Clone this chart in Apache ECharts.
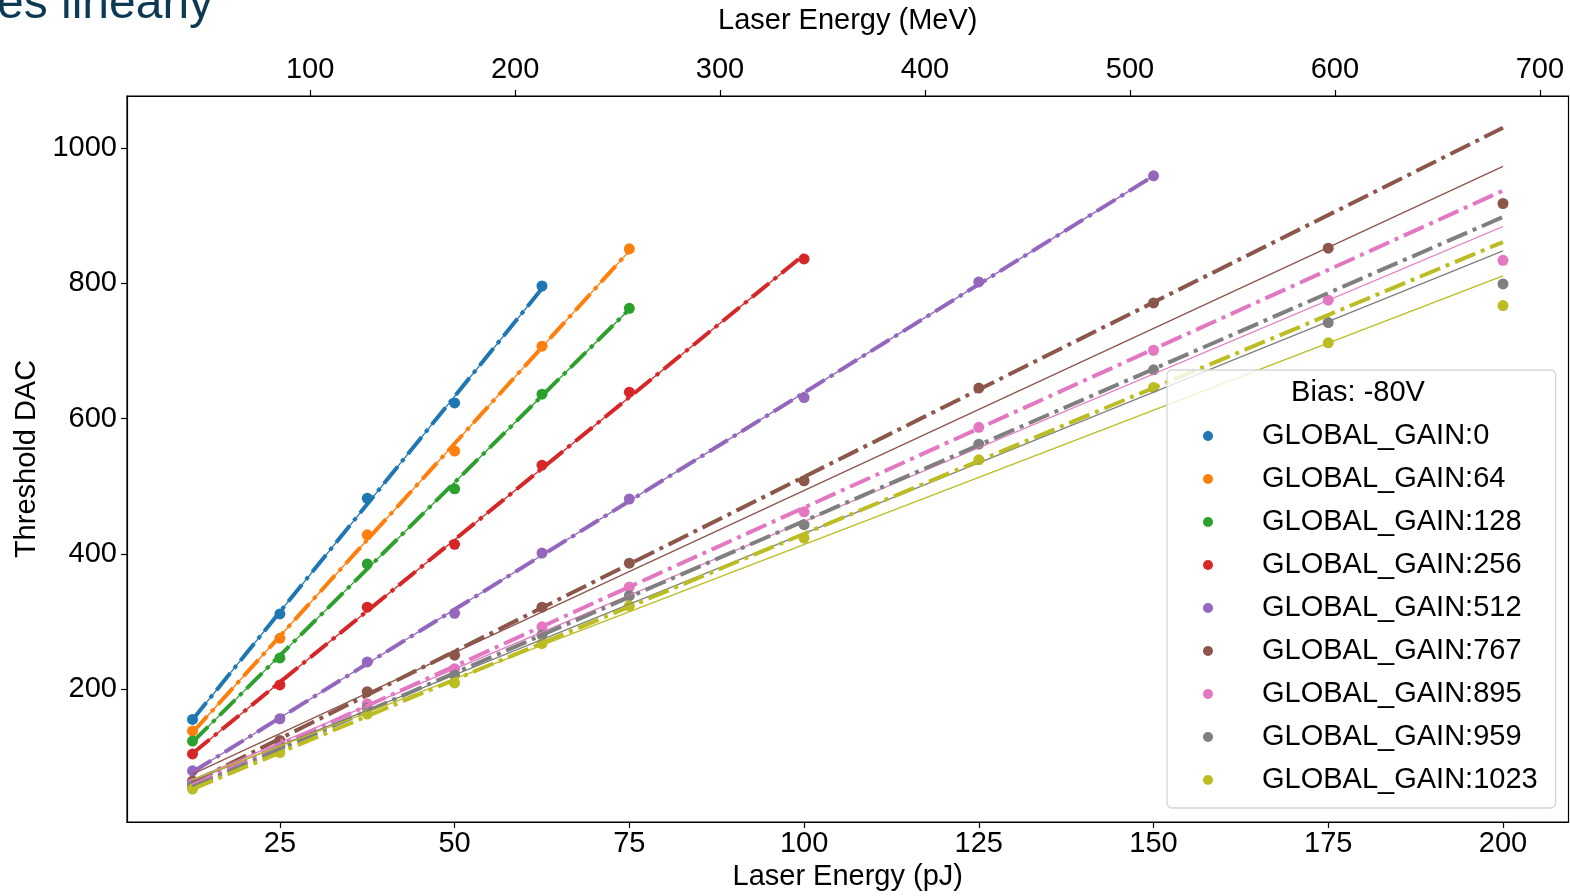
<!DOCTYPE html>
<html>
<head>
<meta charset="utf-8">
<script src="https://cdn.jsdelivr.net/npm/echarts@6/dist/echarts.min.js"></script>
<style>
html,body{margin:0;padding:0;background:#fff;}
#chart{width:1570px;height:896px;}
</style>
</head>
<body>
<div id="chart"></div>
<script>
// ---- data ----
const pJ = [12.5, 25, 37.5, 50, 62.5, 75, 100, 125, 150, 175, 200];
const gainNames = ['GLOBAL_GAIN:0','GLOBAL_GAIN:64','GLOBAL_GAIN:128','GLOBAL_GAIN:256','GLOBAL_GAIN:512','GLOBAL_GAIN:767','GLOBAL_GAIN:895','GLOBAL_GAIN:959','GLOBAL_GAIN:1023'];
const colors = ['#1f77b4','#ff7f0e','#2ca02c','#d62728','#9467bd','#8c564b','#e377c2','#7f7f7f','#bcbd22'];

const gain0    = [155, 311, 482, 623, 796];
const gain64   = [138, 275, 428, 552, 707, 851];
const gain128  = [123, 246, 385, 496, 636, 763];
const gain256  = [104, 206, 321, 414, 531, 639, 836];
const gain512  = [79, 156, 240, 312, 401, 481, 631, 802, 959];
const gain767  = [64, 124, 196, 250, 321, 386, 508, 645, 771, 852, 918];
const gain895  = [60, 119, 178, 230, 292, 351, 462, 587, 701, 775, 834];
const gain959  = [57, 115, 172, 221, 280, 338, 443, 562, 672, 742, 799];
const gain1023 = [52, 106, 163, 209, 267, 323, 423, 539, 646, 712, 767];
const gainValues = [gain0, gain64, gain128, gain256, gain512, gain767, gain895, gain959, gain1023];

// fit line values at first and last measured energy
const dashFitStart = [154.6, 135.7, 121.4, 104.7, 77.2, 62, 58, 55, 52];
const dashFitEnd   = [792.2, 847.9, 761.6, 842.2, 958.8, 1030, 937, 898, 861];
const thinFitStart = [154.6, 135.7, 121.4, 104.7, 77.2, 74, 66, 64, 66];
const thinFitEnd   = [792.2, 847.9, 761.6, 842.2, 958.8, 973, 884, 848, 811];

const pJTicks  = [25, 50, 75, 100, 125, 150, 175, 200];
const yTicks   = [200, 400, 600, 800, 1000];
const meVTicks = [100, 200, 300, 400, 500, 600, 700];
const MEV_PER_PJ = 3.41;
const X_MIN = 3.125, X_MAX = 209.375, Y_MIN = 3.3, Y_MAX = 1077;

// ---- chart ----
const FONT = 'Liberation Sans, Arial, sans-serif';
const series = [];
gainValues.forEach((vals, i) => {
  series.push({
    name: gainNames[i], type: 'scatter', symbol: 'circle', symbolSize: 11,
    itemStyle: {color: colors[i], opacity: 1},
    data: vals.map((v, k) => [pJ[k], v]), z: 2
  });
  const x0 = pJ[0], x1 = pJ[vals.length - 1];
  series.push({
    name: 'fitA ' + gainNames[i], type: 'line', showSymbol: false, symbol: 'none',
    lineStyle: {color: colors[i], width: 4, type: [22, 6, 4, 6], cap: 'butt'},
    data: [[x0, dashFitStart[i]], [x1, dashFitEnd[i]]], z: 3, silent: true
  });
  series.push({
    name: 'fitB ' + gainNames[i], type: 'line', showSymbol: false, symbol: 'none',
    lineStyle: {color: colors[i], width: 1.3},
    data: [[x0, thinFitStart[i]], [x1, thinFitEnd[i]]], z: 3, silent: true
  });
});

const axisCommon = {
  axisLine: {show: true, lineStyle: {color: '#000', width: 1.2}},
  axisTick: {show: true, length: 6, inside: false, lineStyle: {color: '#000', width: 1.2}},
  splitLine: {show: false},
  nameTextStyle: {fontFamily: FONT, fontSize: 29, color: '#000'}
};
const plain = v => String(v);

const chart = echarts.init(document.getElementById('chart'), null, {renderer: 'canvas'});
chart.setOption({
  animation: false,
  backgroundColor: '#fff',
  grid: {left: 127, right: 1.5, top: 96, bottom: 74, show: true, borderColor: '#000', borderWidth: 1.2,
         containLabel: false, outerBoundsMode: 'none'},
  xAxis: [
    Object.assign({}, axisCommon, {
      type: 'value', position: 'bottom', min: X_MIN, max: X_MAX,
      name: 'Laser Energy (pJ)', nameLocation: 'middle', nameGap: 40,
      axisTick: Object.assign({}, axisCommon.axisTick, {customValues: pJTicks}),
      axisLabel: {customValues: pJTicks, formatter: plain, fontFamily: FONT, fontSize: 29, color: '#000', margin: 7}
    }),
    Object.assign({}, axisCommon, {
      type: 'value', position: 'top', min: X_MIN * MEV_PER_PJ, max: X_MAX * MEV_PER_PJ,
      name: 'Laser Energy (MeV)', nameLocation: 'middle', nameGap: 61,
      axisTick: Object.assign({}, axisCommon.axisTick, {customValues: meVTicks}),
      axisLabel: {customValues: meVTicks, formatter: plain, fontFamily: FONT, fontSize: 29, color: '#000', margin: 12}
    })
  ],
  yAxis: [
    Object.assign({}, axisCommon, {
      type: 'value', min: Y_MIN, max: Y_MAX,
      name: 'Threshold DAC', nameLocation: 'middle', nameGap: 85,
      axisTick: Object.assign({}, axisCommon.axisTick, {customValues: yTicks}),
      axisLabel: {customValues: yTicks, formatter: plain, fontFamily: FONT, fontSize: 29, color: '#000', margin: 10}
    })
  ],
  legend: {
    data: gainNames,
    orient: 'vertical', left: 1167, top: 370,
    icon: 'circle', itemWidth: 10, itemHeight: 10, itemGap: 9,
    padding: [49, 18, 11, 36],
    backgroundColor: 'rgba(255,255,255,0.8)',
    borderColor: '#d6d6d6', borderWidth: 1.3, borderRadius: 5,
    textStyle: {fontFamily: FONT, fontSize: 29, color: '#000', lineHeight: 34, padding: [0, 0, 0, 44]},
    selectedMode: false, z: 10
  },
  graphic: [
    {type: 'text', z: 100,
     style: {text: 'Bias: -80V', x: 1358, y: 393, fontFamily: FONT, fontSize: 29, fill: '#000', align: 'center', verticalAlign: 'middle'}},
    {type: 'text', z: 100,
     style: {text: 'es linearly', x: -3, y: 29, fontFamily: FONT, fontSize: 48, fill: '#0b3a52', align: 'left', verticalAlign: 'bottom'}}
  ],
  series: series
});
</script>
</body>
</html>
